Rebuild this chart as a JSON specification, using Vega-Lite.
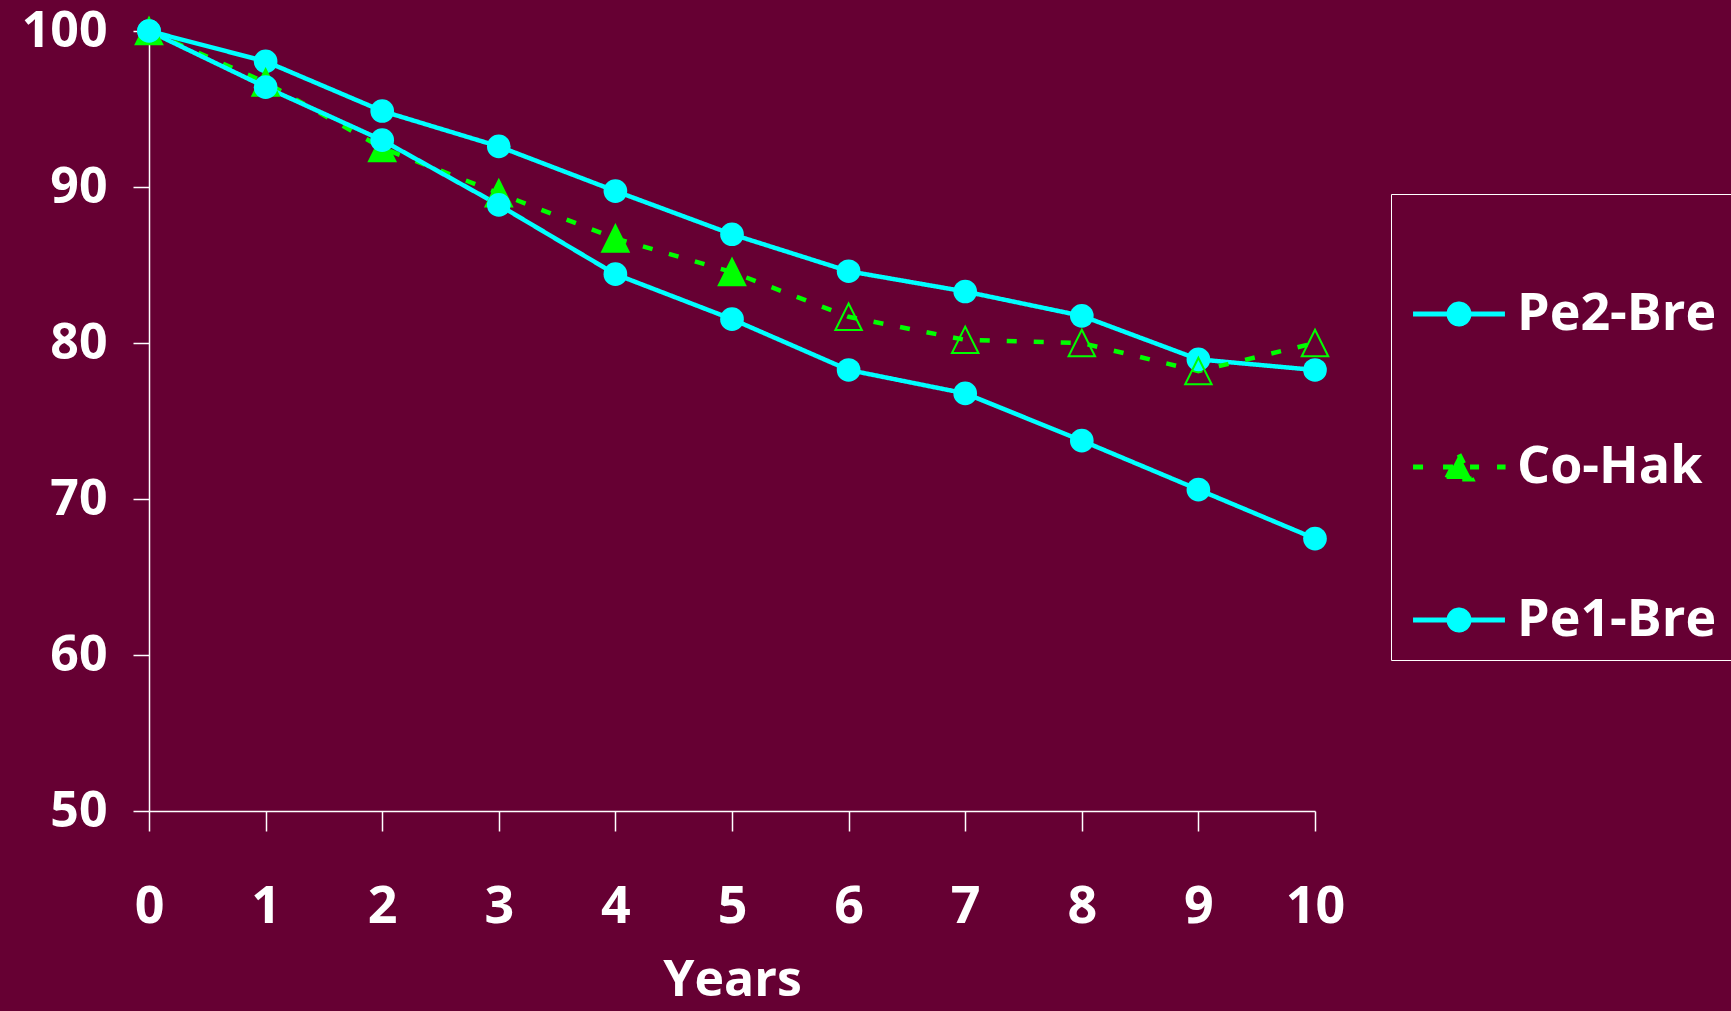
{
  "$schema": "https://vega.github.io/schema/vega-lite/v6.json",
  "width": 1166,
  "height": 780,
  "autosize": {"type": "none"},
  "padding": {"left": 149, "top": 31, "right": 416, "bottom": 200},
  "background": "#660033",
  "config": {
    "view": {"stroke": null},
    "font": "Open Sans"
  },
  "data": {
    "values": [
      {"series": "Pe2-Bre", "year": 0, "value": 100},
      {"series": "Pe2-Bre", "year": 1, "value": 98.05},
      {"series": "Pe2-Bre", "year": 2, "value": 94.87},
      {"series": "Pe2-Bre", "year": 3, "value": 92.6},
      {"series": "Pe2-Bre", "year": 4, "value": 89.74},
      {"series": "Pe2-Bre", "year": 5, "value": 86.97},
      {"series": "Pe2-Bre", "year": 6, "value": 84.6},
      {"series": "Pe2-Bre", "year": 7, "value": 83.3},
      {"series": "Pe2-Bre", "year": 8, "value": 81.74},
      {"series": "Pe2-Bre", "year": 9, "value": 78.95},
      {"series": "Pe2-Bre", "year": 10, "value": 78.27},
      {"series": "Co-Hak", "year": 0, "value": 100},
      {"series": "Co-Hak", "year": 1, "value": 96.7},
      {"series": "Co-Hak", "year": 2, "value": 92.5},
      {"series": "Co-Hak", "year": 3, "value": 89.6},
      {"series": "Co-Hak", "year": 4, "value": 86.7},
      {"series": "Co-Hak", "year": 5, "value": 84.55},
      {"series": "Co-Hak", "year": 6, "value": 81.68},
      {"series": "Co-Hak", "year": 7, "value": 80.2},
      {"series": "Co-Hak", "year": 8, "value": 80.0},
      {"series": "Co-Hak", "year": 9, "value": 78.2},
      {"series": "Co-Hak", "year": 10, "value": 80.0},
      {"series": "Pe1-Bre", "year": 0, "value": 100},
      {"series": "Pe1-Bre", "year": 1, "value": 96.4},
      {"series": "Pe1-Bre", "year": 2, "value": 93.0},
      {"series": "Pe1-Bre", "year": 3, "value": 88.85},
      {"series": "Pe1-Bre", "year": 4, "value": 84.41},
      {"series": "Pe1-Bre", "year": 5, "value": 81.53},
      {"series": "Pe1-Bre", "year": 6, "value": 78.27},
      {"series": "Pe1-Bre", "year": 7, "value": 76.77},
      {"series": "Pe1-Bre", "year": 8, "value": 73.74},
      {"series": "Pe1-Bre", "year": 9, "value": 70.6},
      {"series": "Pe1-Bre", "year": 10, "value": 67.46}
    ]
  },
  "encoding": {
    "x": {
      "field": "year", "type": "quantitative",
      "scale": {"domain": [0, 10], "nice": false, "zero": false},
      "axis": {
        "values": [0, 1, 2, 3, 4, 5, 6, 7, 8, 9, 10],
        "grid": false,
        "domainColor": "white", "domainWidth": 1.5,
        "tickColor": "white", "tickWidth": 1.5, "tickSize": 20,
        "labelColor": "white", "labelFont": "Open Sans", "labelFontWeight": "bold", "labelFontSize": 52,
        "labelPadding": 50, "labelFlush": false,
        "title": "Years", "titleColor": "white", "titleFont": "Open Sans", "titleFontWeight": "bold", "titleFontSize": 50,
        "titlePadding": 23
      }
    },
    "y": {
      "field": "value", "type": "quantitative",
      "scale": {"domain": [50, 100], "nice": false, "zero": false},
      "axis": {
        "values": [50, 60, 70, 80, 90, 100],
        "grid": false,
        "domainColor": "white", "domainWidth": 1.5,
        "tickColor": "white", "tickWidth": 1.5, "tickSize": 16,
        "labelColor": "white", "labelFont": "Open Sans", "labelFontWeight": "bold", "labelFontSize": 50,
        "labelPadding": 26, "labelFlush": false,
        "title": null
      }
    }
  },
  "layer": [
    {
      "mark": {"type": "line", "strokeWidth": 4.5},
      "encoding": {
        "color": {
          "field": "series", "type": "nominal",
          "scale": {"domain": ["Pe2-Bre", "Co-Hak", "Pe1-Bre"], "range": ["#00ffff", "#00ff00", "#00ffff"]},
          "legend": {
            "orient": "none", "legendX": 1242, "legendY": 163,
            "title": " ", "titleFontSize": 20, "titlePadding": 60,
            "strokeColor": "white", "padding": 14,
            "symbolSize": 576, "symbolOffset": 28, "symbolStrokeWidth": 5,
            "labelOffset": 32, "rowPadding": 101, "labelLimit": 0,
            "labelColor": "white", "labelFont": "Open Sans", "labelFontWeight": "bold", "labelFontSize": 52,
            "encode": {
              "symbols": {
                "update": {
                  "shape": {"signal": "datum.value === 'Co-Hak' ? 'M-3.83,0L-2.92,0M-1.33,0L1.67,0M3.17,0L3.88,0M0,-1.05L1.05,1.0L-1.05,1.0Z' : 'M-3.83,0L3.83,0M-0.83,0C-0.83,-0.458 -0.458,-0.83 0,-0.83C0.458,-0.83 0.83,-0.458 0.83,0C0.83,0.458 0.458,0.83 0,0.83C-0.458,0.83 -0.83,0.458 -0.83,0Z'"},
                  "fill": {"signal": "datum.value === 'Co-Hak' ? '#00ff00' : '#00ffff'"},
                  "stroke": {"signal": "datum.value === 'Co-Hak' ? '#00ff00' : '#00ffff'"},
                  "strokeWidth": {"value": 5},
                  "strokeDash": {"value": []},
                  "opacity": {"value": 1},
                  "fillOpacity": {"value": 1},
                  "strokeOpacity": {"value": 1}
                }
              }
            }
          }
        },
        "strokeDash": {
          "field": "series", "type": "nominal",
          "scale": {"domain": ["Pe2-Bre", "Co-Hak", "Pe1-Bre"], "range": [[1, 0], [10, 17], [1, 0]]},
          "legend": null
        }
      }
    },
    {
      "transform": [{"filter": "datum.series === 'Pe2-Bre'"}],
      "mark": {"type": "point", "shape": "circle", "filled": true, "size": 560, "opacity": 1, "color": "#00ffff"}
    },
    {
      "transform": [{"filter": "datum.series === 'Co-Hak'"}],
      "mark": {"type": "point", "shape": "M0,-1L1,1L-1,1Z", "filled": false, "size": 700, "opacity": 1, "stroke": "#00ff00", "strokeWidth": 2},
      "encoding": {
        "fill": {"condition": {"test": "datum.year < 6", "value": "#00ff00"}, "value": "transparent"}
      }
    },
    {
      "transform": [{"filter": "datum.series === 'Pe1-Bre'"}],
      "mark": {"type": "point", "shape": "circle", "filled": true, "size": 560, "opacity": 1, "color": "#00ffff"}
    }
  ]
}
